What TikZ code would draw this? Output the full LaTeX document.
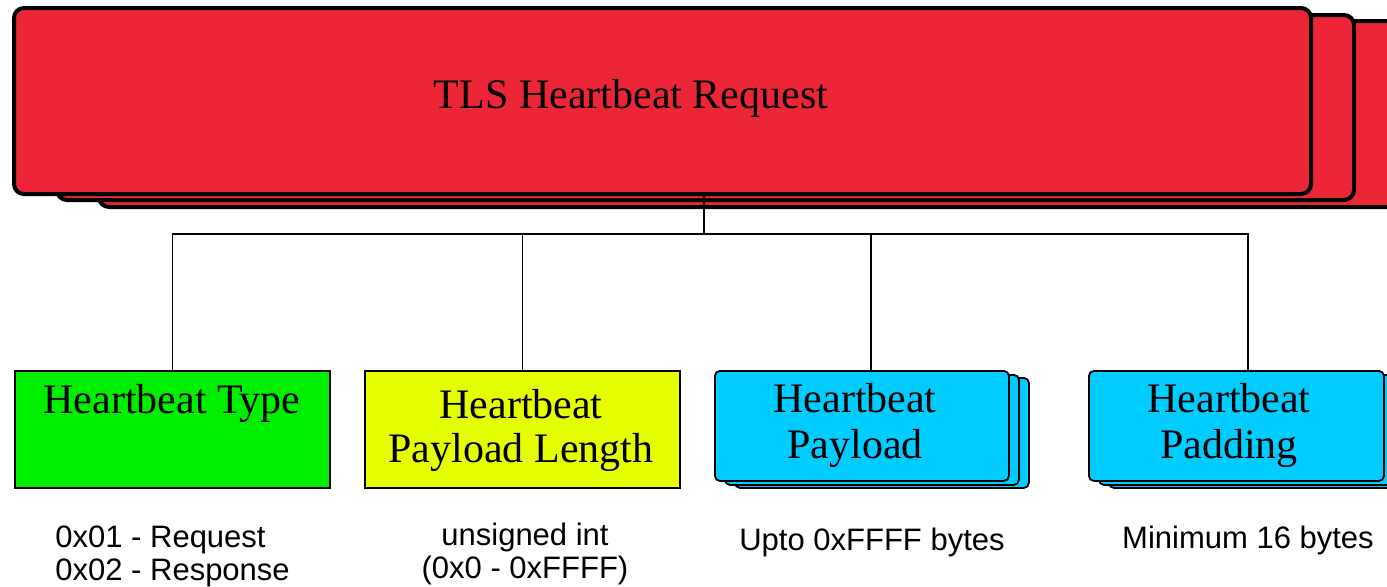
\documentclass[tikz,border=0pt]{standalone}
\usepackage{fontspec}
\setmainfont{Liberation Serif}
\setsansfont{Liberation Sans}
\definecolor{hbred}{RGB}{236,38,54}
\definecolor{hbgreen}{RGB}{0,238,0}
\definecolor{hbyellow}{RGB}{229,255,0}
\definecolor{hbcyan}{RGB}{0,204,255}
\tikzset{
  redbox/.style={draw=black, fill=hbred, line width=2pt, rounded corners=5pt, anchor=north west, inner sep=0pt},
  cyanbox/.style={draw=black, fill=hbcyan, line width=0.9pt, rounded corners=2.5pt, anchor=north west, inner sep=0pt, minimum width=147pt, minimum height=55pt},
  flatbox/.style={draw=black, line width=0.9pt, anchor=north west, inner sep=0pt, minimum width=157.5pt, minimum height=58.5pt},
  serif/.style={font=\fontsize{21}{23}\selectfont, anchor=base, inner sep=0pt},
  sans/.style={font=\sffamily\fontsize{15.5}{17}\selectfont, inner sep=0pt},
  conn/.style={draw=black, line width=0.75pt}
}
\begin{document}
\begin{tikzpicture}[x=0.5pt,y=-0.5pt]
\useasboundingbox (0,0) rectangle (1387,586);
\clip (0,0) rectangle (1387,586);
% red stack
\node[redbox, minimum width=651pt, minimum height=93pt] (req3) at (97,19) {};
\node[redbox, minimum width=648.5pt, minimum height=92.5pt] (req2) at (55,13) {};
\node[redbox, minimum width=648.5pt, minimum height=93pt] (req) at (12,6) {};
\node[serif] (reqtxt) at (631,108) {TLS Heartbeat Request};
% child boxes
\node[flatbox, fill=hbgreen] (type) at (14,370) {};
\node[flatbox, fill=hbyellow] (len) at (364,370) {};
\node[cyanbox] (pay3) at (734,377) {};
\node[cyanbox] (pay2) at (724,374) {};
\node[cyanbox] (pay) at (714,370) {};
\node[cyanbox] (pad3) at (1108,377) {};
\node[cyanbox] (pad2) at (1098,374) {};
\node[cyanbox, minimum width=147.5pt] (pad) at (1088,370) {};
% box texts
\node[serif] (typetxt) at (172,413) {Heartbeat Type};
\node[serif] (lentxt1) at (521,418) {Heartbeat};
\node[serif] (lentxt2) at (521,462) {Payload Length};
\node[serif] (paytxt1) at (855,412) {Heartbeat};
\node[serif] (paytxt2) at (855,458) {Payload};
\node[serif] (padtxt1) at (1229,412) {Heartbeat};
\node[serif] (padtxt2) at (1229,458) {Padding};
% connectors
\coordinate (hub) at (704,234);
\coordinate (paytop) at (871,370);
\coordinate (padtop) at (1248,370);
\draw[conn] (req.south -| hub) -- (hub);
\draw[conn] (hub) -| (type.north);
\draw[conn] (hub) -| (len.north);
\draw[conn] (hub) -| (paytop);
\draw[conn] (hub) -| (padtop);
% descriptions
\node[sans, anchor=base west] (d1a) at (55,547) {0x01 - Request};
\node[sans, anchor=base west] (d1b) at (55,580) {0x02 - Response};
\node[sans, anchor=base] (d2a) at (525,545) {unsigned int};
\node[sans, anchor=base] (d2b) at (525,578) {(0x0 - 0xFFFF)};
\node[sans, anchor=base] (d3) at (872,550) {Upto 0xFFFF bytes};
\node[sans, anchor=base] (d4) at (1248,548) {Minimum 16 bytes};
\end{tikzpicture}
\end{document}
